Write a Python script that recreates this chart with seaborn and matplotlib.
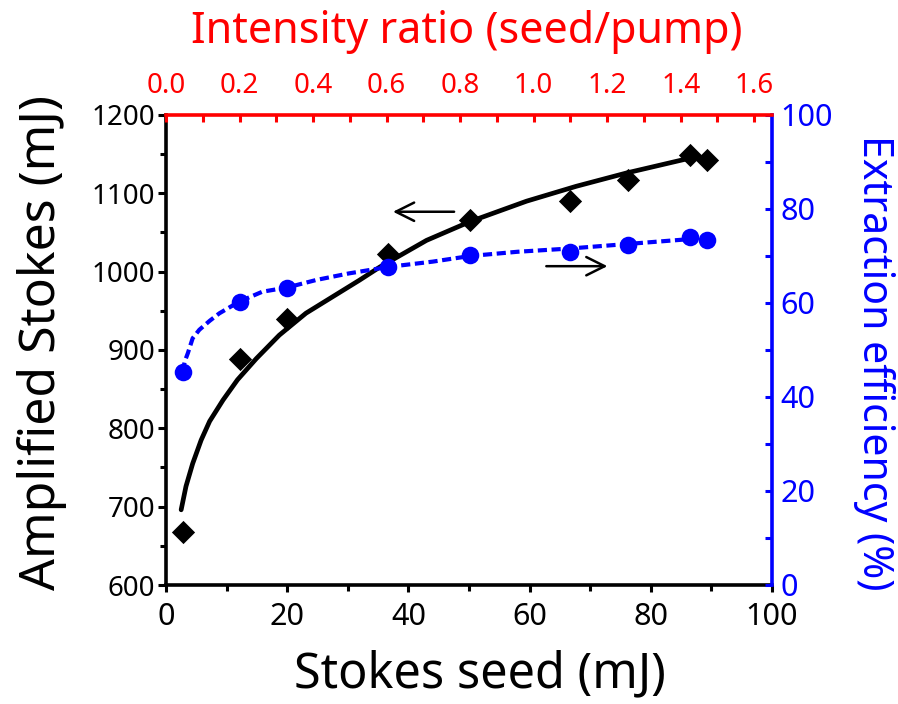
import matplotlib
matplotlib.use("Agg")
import matplotlib.pyplot as plt
import seaborn as sns
import pandas as pd
from matplotlib.ticker import MultipleLocator

# ---- data ----
seed_mj = [2.8, 12.2, 20.0, 36.7, 50.2, 66.7, 76.3, 86.5, 89.2]
amplified_mj = [668, 889, 940, 1023, 1066, 1090, 1117, 1149, 1143]
efficiency_pct = [45.4, 60.3, 63.1, 67.7, 70.2, 70.9, 72.3, 74.1, 73.4]

fit_amp_x = [2.5, 3.3, 4.4, 5.8, 7.2, 9.4, 11.8, 14.9, 18.7, 23.1, 27.5, 31.9,
             35.3, 43.0, 50.2, 59.5, 67.7, 76.0, 86.5]
fit_amp_y = [696, 726, 755, 785, 809, 836, 862, 889, 919, 947, 968, 989,
             1006, 1040, 1064, 1090, 1109, 1126, 1145]

fit_eff_x = [2.75, 3.1, 3.6, 4.4, 5.5, 7.2, 8.8, 12.1, 15.9, 20.0, 24.8, 30.2,
             36.8, 44.0, 50.2, 58.0, 66.7, 76.6, 86.5, 89.2]
fit_eff_y = [45.4, 47.6, 49.3, 52.5, 54.3, 56.2, 57.8, 60.3, 62.4, 63.3, 64.9, 66.3,
             67.7, 68.8, 70.0, 70.9, 71.6, 72.6, 73.6, 73.8]

top_ticks = [0.0, 0.2, 0.4, 0.6, 0.8, 1.0, 1.2, 1.4, 1.6]

df_pts = pd.DataFrame({"seed": seed_mj, "amp": amplified_mj, "eff": efficiency_pct})
df_fa = pd.DataFrame({"x": fit_amp_x, "y": fit_amp_y})
df_fe = pd.DataFrame({"x": fit_eff_x, "y": fit_eff_y})

sns.set_theme(style="white")
plt.rcParams['font.family'] = ['Noto Sans', 'DejaVu Sans']

fig = plt.figure(figsize=(8.98, 7.04), dpi=100)
ax = fig.add_axes([166 / 898, 1 - 585 / 704, 606 / 898, 470 / 704])
ax2 = ax.twinx()
ax3 = ax.twiny()

BLUE = "#0000ff"
RED = "#ff0000"

sns.lineplot(data=df_fa, x="x", y="y", ax=ax, color="black", lw=3.4, sort=True)
sns.scatterplot(data=df_pts, x="seed", y="amp", ax=ax, marker="D", s=140,
                color="black", edgecolor="black", linewidth=0, zorder=5)

sns.lineplot(data=df_fe, x="x", y="y", ax=ax2, color=BLUE, lw=3.0, sort=True)
for line in ax2.get_lines():
    line.set_dashes([2.2, 1.1])
sns.scatterplot(data=df_pts, x="seed", y="eff", ax=ax2, marker="o", s=160,
                color=BLUE, edgecolor=BLUE, linewidth=0, zorder=5)

ax.set_xlim(0, 100)
ax.set_ylim(600, 1200)
ax2.set_ylim(0, 100)
ax3.set_xlim(0, 1.6 * 1535 / 1490)

ax.xaxis.set_major_locator(MultipleLocator(20))
ax.xaxis.set_minor_locator(MultipleLocator(10))
ax.yaxis.set_major_locator(MultipleLocator(100))
ax.yaxis.set_minor_locator(MultipleLocator(50))
ax2.yaxis.set_major_locator(MultipleLocator(20))
ax2.yaxis.set_minor_locator(MultipleLocator(10))
ax3.set_xticks(top_ticks)
ax3.xaxis.set_minor_locator(MultipleLocator(0.1))

lw_sp = 2.6
for a in (ax, ax2, ax3):
    for s in a.spines.values():
        s.set_linewidth(lw_sp)
        s.set_visible(False)
ax.spines['left'].set_visible(True)
ax.spines['left'].set_color('black')
ax.spines['bottom'].set_visible(True)
ax.spines['bottom'].set_color('black')
ax2.spines['right'].set_visible(True)
ax2.spines['right'].set_color(BLUE)
ax3.spines['top'].set_visible(True)
ax3.spines['top'].set_color(RED)

ax.tick_params(axis='y', which='major', direction='out', length=6, width=2.2,
               labelsize=20, colors='black', left=True, right=False, pad=2)
ax.tick_params(axis='y', which='minor', direction='out', length=4, width=2.2,
               left=True, right=False, colors='black')
ax.tick_params(axis='x', which='major', direction='out', length=5, width=2.2,
               labelsize=22, colors='black', bottom=True, top=False, pad=7)
ax.tick_params(axis='x', which='minor', direction='out', length=4, width=2.2,
               bottom=True, top=False, colors='black')
ax2.tick_params(axis='y', which='major', direction='in', length=5, width=2.2,
                labelsize=22, colors=BLUE, right=True, left=False, pad=6)
ax2.tick_params(axis='y', which='minor', direction='in', length=5, width=2.2,
                colors=BLUE, right=True, left=False)
ax3.tick_params(axis='x', which='major', direction='in', length=5, width=2.2,
                labelsize=20, colors=RED, top=True, bottom=False, pad=11)
ax3.tick_params(axis='x', which='minor', direction='in', length=5, width=2.2,
                colors=RED, top=True, bottom=False)
ax3.set_xticklabels([f"{t:.1f}" for t in top_ticks])

for a in (ax, ax2, ax3):
    a.grid(False)
ax.patch.set_visible(False)

ax.set_xlabel("Stokes seed (mJ)", fontsize=35, color='black')
ax.set_ylabel("Amplified Stokes (mJ)", fontsize=36, color='black')
ax2.set_ylabel("Extraction efficiency (%)", fontsize=29.5, color=BLUE, rotation=270)
ax3.set_xlabel("Intensity ratio (seed/pump)", fontsize=31, color=RED)

ax.xaxis.set_label_coords(0.518, -0.19)
ax.xaxis.label.set_va('center')
ax.yaxis.set_label_coords(-0.205, 0.517)
ax.yaxis.label.set_va('center')
ax2.yaxis.set_label_coords(1.168, 0.472)
ax2.yaxis.label.set_va('center')
ax3.xaxis.set_label_coords(0.497, 1.176)
ax3.xaxis.label.set_va('center')

# arrows
ax.annotate("", xy=(37.0, 1076.5), xytext=(48.0, 1076.5),
            arrowprops=dict(arrowstyle="->, head_length=0.6, head_width=0.3",
                            color="black", lw=1.8, mutation_scale=22))
ax.annotate("", xy=(73.3, 1007), xytext=(62.3, 1007),
            arrowprops=dict(arrowstyle="->, head_length=0.6, head_width=0.3",
                            color="black", lw=1.8, mutation_scale=22))

fig.savefig("out.png", dpi=100)
